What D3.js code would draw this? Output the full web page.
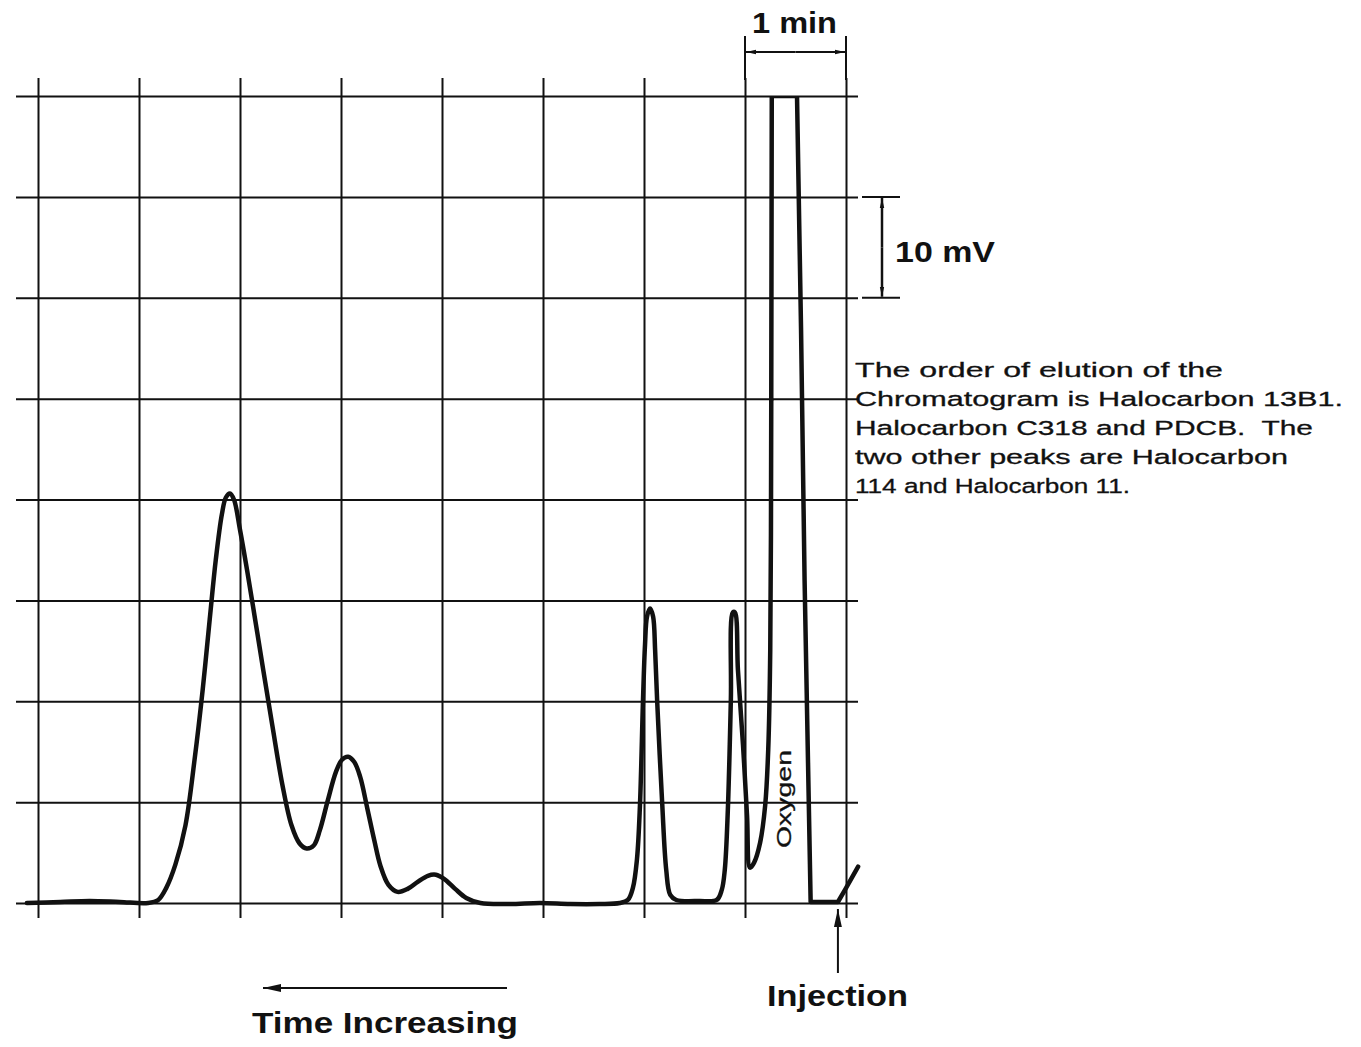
<!DOCTYPE html>
<html>
<head>
<meta charset="utf-8">
<script src="https://cdn.jsdelivr.net/npm/d3@7"></script>
<style>
  html, body { margin: 0; padding: 0; background: #fff; }
  svg { display: block; }
</style>
</head>
<body>
<svg id="chart" width="1361" height="1047"></svg>
<script>
// ---------------- data ----------------
// grid divisions: time (min, increasing to the left) and signal (mV)
const timeTicks = [0, 1, 2, 3, 4, 5, 6, 7, 8];
const mvTicks = [0, 10, 20, 30, 40, 50, 60, 70, 80];

// recorder trace: time after right-hand grid line (min) and signal (mV); recorder saturates at 80 mV
const traceTime = [8.11, 7.78, 7.49, 7.19, 6.91, 6.81, 6.73, 6.64, 6.54, 6.45, 6.37, 6.30, 6.24, 6.18, 6.14, 6.10, 6.06, 6.00, 5.93, 5.85,
  5.77, 5.68, 5.58, 5.49, 5.41, 5.34, 5.27, 5.21, 5.13, 5.05, 4.99, 4.93, 4.87, 4.81, 4.74, 4.67, 4.61, 4.53, 4.44, 4.34,
  4.24, 4.14, 4.06, 3.98, 3.87, 3.76, 3.62, 3.33, 3.03, 2.73, 2.44, 2.24, 2.16, 2.11, 2.07, 2.04, 2.01, 1.99, 1.97, 1.94,
  1.91, 1.89, 1.87, 1.82, 1.78, 1.74, 1.68, 1.45, 1.28, 1.23, 1.20, 1.17, 1.14, 1.12, 1.10, 1.07, 1.02, 0.98, 0.95, 0.91,
  0.85, 0.80, 0.77, 0.75, 0.74, 0.735, 0.485, 0.445, 0.41, 0.35, 0.08, 0.01, -0.12];
const traceMv = [0.0, 0.1, 0.2, 0.1, 0.0, 0.3, 1.5, 3.8, 7.7, 14.2, 21.1, 28.1, 34.0, 38.5, 40.2, 40.6, 40.0, 37.0, 33.0, 28.1,
  23.1, 17.6, 11.7, 7.7, 5.9, 5.4, 5.7, 7.2, 10.2, 13.0, 14.2, 14.5, 14.0, 12.5, 9.4, 6.2, 3.7, 1.8, 1.1, 1.4,
  2.1, 2.7, 2.8, 2.4, 1.4, 0.5, 0.0, -0.1, 0.0, -0.1, -0.1, 0.0, 0.3, 1.5, 4.3, 9.7, 20.1, 25.6, 28.4, 29.2,
  28.4, 25.1, 20.1, 9.9, 3.3, 0.8, 0.3, 0.2, 0.3, 1.3, 3.3, 9.2, 20.1, 28.8, 28.8, 23.1, 15.7, 8.7, 3.5, 4.0,
  6.0, 9.7, 15.2, 25.1, 49.9, 80, 80, 56.8, 32.0, 0.1, 0.1, 1.3, 3.6];

const injectionTime = 0.08;
const noteLines = [
  "The order of elution of the",
  "Chromatogram is Halocarbon 13B1.",
  "Halocarbon C318 and PDCB.  The",
  "two other peaks are Halocarbon",
  "114 and Halocarbon 11."
];
const noteWidths = [368, 488, 458, 433, 275];

// ---------------- drawing ----------------
const ink = "#111";
const font = "Liberation Sans, Arial, sans-serif";
const svg = d3.select("#chart");
svg.append("rect").attr("width", 1361).attr("height", 1047).attr("fill", "#fff");

const x = d3.scaleLinear().domain([0, 8]).range([846, 38]);
const y = d3.scaleLinear().domain([0, 80]).range([903, 96]);

// arrow markers
const defs = svg.append("defs");
defs.append("marker").attr("id", "arr").attr("viewBox", "0 0 10 10")
  .attr("refX", 10).attr("refY", 5).attr("markerWidth", 10).attr("markerHeight", 10)
  .attr("markerUnits", "userSpaceOnUse").attr("orient", "auto-start-reverse")
  .append("path").attr("d", "M0,2.8 L10,5 L0,7.2 Z").attr("fill", ink);
defs.append("marker").attr("id", "arrBig").attr("viewBox", "0 0 10 10")
  .attr("refX", 10).attr("refY", 5).attr("markerWidth", 18).attr("markerHeight", 18)
  .attr("markerUnits", "userSpaceOnUse").attr("orient", "auto-start-reverse")
  .append("path").attr("d", "M0,2.8 L10,5 L0,7.2 Z").attr("fill", ink);
defs.append("clipPath").attr("id", "plotClip")
  .append("rect").attr("x", 0).attr("y", y(80) + 1).attr("width", 1361).attr("height", 1047);

// horizontal grid via axis
const hGrid = svg.append("g").attr("transform", "translate(16,0)")
  .call(d3.axisRight(y).tickValues(mvTicks).tickSize(842).tickFormat(""));
hGrid.select(".domain").remove();
hGrid.selectAll("line").attr("stroke", ink).attr("stroke-width", 2);

// vertical grid via axis
const vGrid = svg.append("g").attr("transform", "translate(0,918)")
  .call(d3.axisBottom(x).tickValues(timeTicks).tickSize(-840).tickFormat(""));
vGrid.select(".domain").remove();
vGrid.selectAll("line").attr("stroke", ink).attr("stroke-width", 2);

// extensions of the 0 and 1 min lines for the "1 min" bracket
svg.selectAll("line.ext").data([0, 1]).join("line").attr("class", "ext")
  .attr("x1", d => x(d)).attr("x2", d => x(d)).attr("y1", 36).attr("y2", 80)
  .attr("stroke", ink).attr("stroke-width", 2);

// 1 min bracket
svg.append("line").attr("x1", x(0.5)).attr("x2", x(1) + 1).attr("y1", 52).attr("y2", 52)
  .attr("stroke", ink).attr("stroke-width", 2).attr("marker-end", "url(#arr)");
svg.append("line").attr("x1", x(0.5)).attr("x2", x(0) - 1).attr("y1", 52).attr("y2", 52)
  .attr("stroke", ink).attr("stroke-width", 2).attr("marker-end", "url(#arr)");
svg.append("text").attr("x", 752).attr("y", 33).attr("textLength", 85).attr("lengthAdjust", "spacingAndGlyphs")
  .attr("font-family", font).attr("font-weight", "bold")
  .attr("font-size", 29).attr("fill", ink).text("1 min");

// 10 mV bracket
svg.selectAll("line.mvtick").data([60, 70]).join("line").attr("class", "mvtick")
  .attr("x1", 862).attr("x2", 900).attr("y1", d => y(d)).attr("y2", d => y(d))
  .attr("stroke", ink).attr("stroke-width", 2);
svg.append("line").attr("x1", 882).attr("x2", 882).attr("y1", y(65)).attr("y2", y(70) + 1)
  .attr("stroke", ink).attr("stroke-width", 2.5).attr("marker-end", "url(#arr)");
svg.append("line").attr("x1", 882).attr("x2", 882).attr("y1", y(65)).attr("y2", y(60) - 1)
  .attr("stroke", ink).attr("stroke-width", 2.5).attr("marker-end", "url(#arr)");
svg.append("text").attr("x", 895).attr("y", 262).attr("textLength", 100).attr("lengthAdjust", "spacingAndGlyphs")
  .attr("font-family", font).attr("font-weight", "bold")
  .attr("font-size", 30).attr("fill", ink).text("10 mV");

// note text
svg.selectAll("text.note").data(noteLines).join("text").attr("class", "note")
  .attr("x", 855).attr("y", (d, i) => 377 + i * 29)
  .attr("textLength", (d, i) => noteWidths[i]).attr("lengthAdjust", "spacingAndGlyphs")
  .attr("font-family", font).attr("stroke", ink).attr("stroke-width", 0.3)
  .attr("font-size", 20.5).attr("fill", ink).style("white-space", "pre").text(d => d);

// trace: smooth part up to the oxygen rise, then straight pen strokes (saturated oxygen peak)
const pts = traceTime.map((t, i) => [t, traceMv[i]]);
const breakAt = traceMv.indexOf(d3.max(traceMv)) - 1;
const smooth = d3.line().x(d => x(d[0])).y(d => y(d[1])).curve(d3.curveCatmullRom.alpha(0.5));
const straight = d3.line().x(d => x(d[0])).y(d => y(d[1])).curve(d3.curveLinear);
const traceG = svg.append("g").attr("clip-path", "url(#plotClip)");
[smooth(pts.slice(0, breakAt + 1)), straight(pts.slice(breakAt))].forEach(dd => {
  traceG.append("path").attr("d", dd)
    .attr("fill", "none").attr("stroke", ink).attr("stroke-width", 4.5)
    .attr("stroke-linejoin", "round").attr("stroke-linecap", "round");
});

// Oxygen label
svg.append("text").attr("transform", `translate(791,848) rotate(-90)`)
  .attr("textLength", 98).attr("lengthAdjust", "spacingAndGlyphs")
  .attr("font-family", font).attr("stroke", ink).attr("stroke-width", 0.3)
  .attr("font-size", 21).attr("fill", ink).text("Oxygen");

// Injection arrow and label
svg.append("line").attr("x1", x(injectionTime)).attr("x2", x(injectionTime)).attr("y1", 973).attr("y2", 909)
  .attr("stroke", ink).attr("stroke-width", 2).attr("marker-end", "url(#arrBig)");
svg.append("text").attr("x", 767).attr("y", 1006).attr("textLength", 141).attr("lengthAdjust", "spacingAndGlyphs")
  .attr("font-family", font).attr("font-weight", "bold")
  .attr("font-size", 30).attr("fill", ink).text("Injection");

// Time increasing arrow and label
svg.append("line").attr("x1", 507).attr("x2", 263).attr("y1", 988).attr("y2", 988)
  .attr("stroke", ink).attr("stroke-width", 2).attr("marker-end", "url(#arrBig)");
svg.append("text").attr("x", 252).attr("y", 1033).attr("textLength", 266).attr("lengthAdjust", "spacingAndGlyphs")
  .attr("font-family", font).attr("font-weight", "bold")
  .attr("font-size", 29).attr("fill", ink).text("Time Increasing");
</script>
</body>
</html>
